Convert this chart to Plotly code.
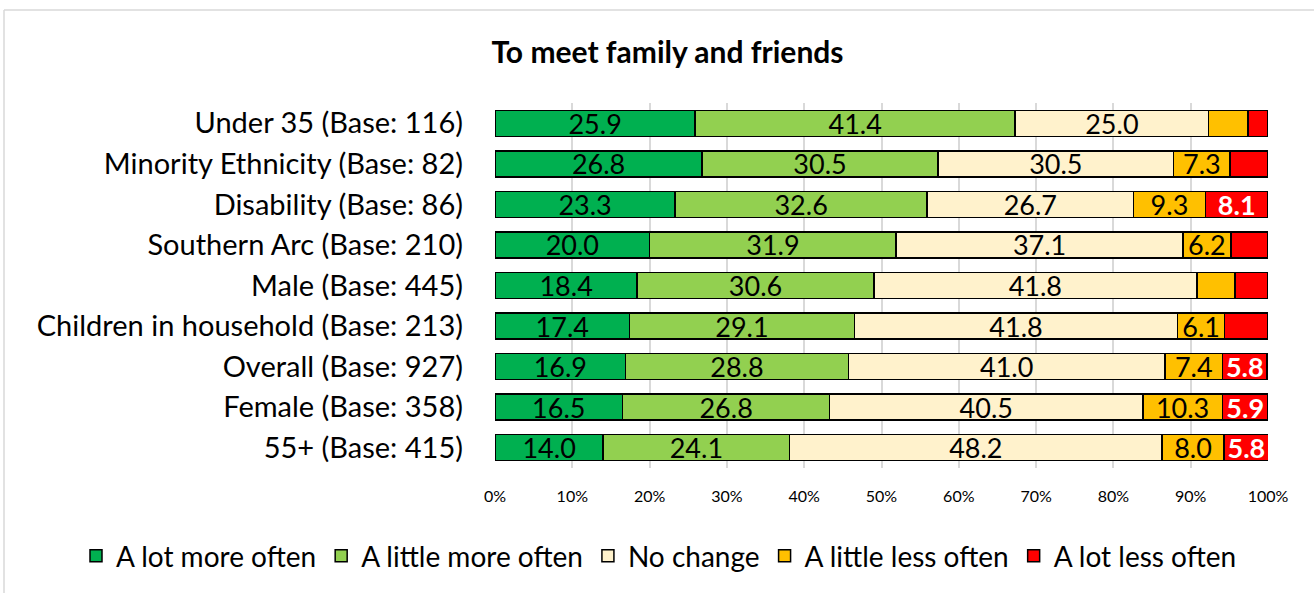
import plotly.graph_objects as go

categories = ["Under 35 (Base: 116)", "Minority Ethnicity (Base: 82)", "Disability (Base: 86)",
              "Southern Arc (Base: 210)", "Male (Base: 445)", "Children in household (Base: 213)",
              "Overall (Base: 927)", "Female (Base: 358)", "55+ (Base: 415)"]
lot_more = [25.9, 26.8, 23.3, 20.0, 18.4, 17.4, 16.9, 16.5, 14.0]
little_more = [41.4, 30.5, 32.6, 31.9, 30.6, 29.1, 28.8, 26.8, 24.1]
no_change = [25.0, 30.5, 26.7, 37.1, 41.8, 41.8, 41.0, 40.5, 48.2]
little_less = [5.1, 7.3, 9.3, 6.2, 4.9, 6.1, 7.4, 10.3, 8.0]
lot_less = [2.6, 4.9, 8.1, 4.8, 4.3, 5.6, 5.8, 5.9, 5.8]

series = [
    ("A lot more often", lot_more, "#00B050", "black", False),
    ("A little more often", little_more, "#92D050", "black", False),
    ("No change", no_change, "#FFF2CC", "black", False),
    ("A little less often", little_less, "#FFC000", "black", False),
    ("A lot less often", lot_less, "#FF0000", "white", True),
]
LABEL_MIN = 5.7
FONT = "Lato"

L, R, T, B = 495, 46, 103, 125
W, H = 1314, 593
PW, PH = W - L - R, H - T - B

fig = go.Figure()
for name, vals, color, tcol, bold in series:
    texts = []
    for v in vals:
        if v >= LABEL_MIN:
            t = f"{v:.1f}"
            texts.append(f"<b>{t}</b>" if bold else t)
        else:
            texts.append("")
    fig.add_trace(go.Bar(
        y=categories, x=vals, name=name, orientation="h",
        marker=dict(color=color, line=dict(color="black", width=1.5)),
        text=texts, texttemplate="%{text}", textposition="inside",
        insidetextanchor="middle", textangle=0,
        insidetextfont=dict(color=tcol, size=27, family=FONT),
        hoverinfo="skip",
    ))

fig.update_layout(
    barmode="stack", bargap=0.36,
    width=W, height=H,
    paper_bgcolor="white", plot_bgcolor="white",
    margin=dict(l=L, r=R, t=T, b=B, autoexpand=False),
    font=dict(family=FONT, color="black"),
    title=dict(text="<b>To meet family and friends</b>", x=0.508, xanchor="center",
               y=1 - 52 / H, yanchor="middle", xref="container", yref="container",
               font=dict(size=30, family=FONT, color="black")),
    uniformtext=dict(minsize=27, mode="show"),
    xaxis=dict(range=[0, 100], tickvals=list(range(0, 101, 10)),
               ticktext=[f"{v}%" for v in range(0, 101, 10)],
               showgrid=True, gridcolor="#D9D9D9", gridwidth=1.5, zeroline=False,
               tickfont=dict(size=16, family=FONT), ticks="", ticklen=0,
               ticklabelstandoff=17, showline=False, fixedrange=True),
    yaxis=dict(categoryorder="array", categoryarray=categories, autorange="reversed",
               tickfont=dict(size=29, family=FONT), ticks="", ticklen=0, showgrid=False,
               ticklabelstandoff=31),
    legend=dict(orientation="h", x=(76 - L) / PW, xanchor="left", xref="paper",
                y=(H - B - 556) / PH, yanchor="middle", yref="paper",
                font=dict(size=28, family=FONT), traceorder="normal",
                itemwidth=30, tracegroupgap=0),
    showlegend=True,
)
top_y = (H - B - 10) / PH
fig.add_shape(type="line", xref="paper", yref="paper",
              x0=(4 - L) / PW, x1=(W - L) / PW, y0=top_y, y1=top_y,
              line=dict(color="#D9D9D9", width=1.5))
fig.add_shape(type="line", xref="paper", yref="paper",
              x0=(4 - L) / PW, x1=(4 - L) / PW, y0=(H - B - 600) / PH, y1=top_y,
              line=dict(color="#D9D9D9", width=1.5))

fig.write_html("out.html", config={"displayModeBar": False},
               post_script="document.body.style.margin='0';document.body.style.overflow='hidden';")
